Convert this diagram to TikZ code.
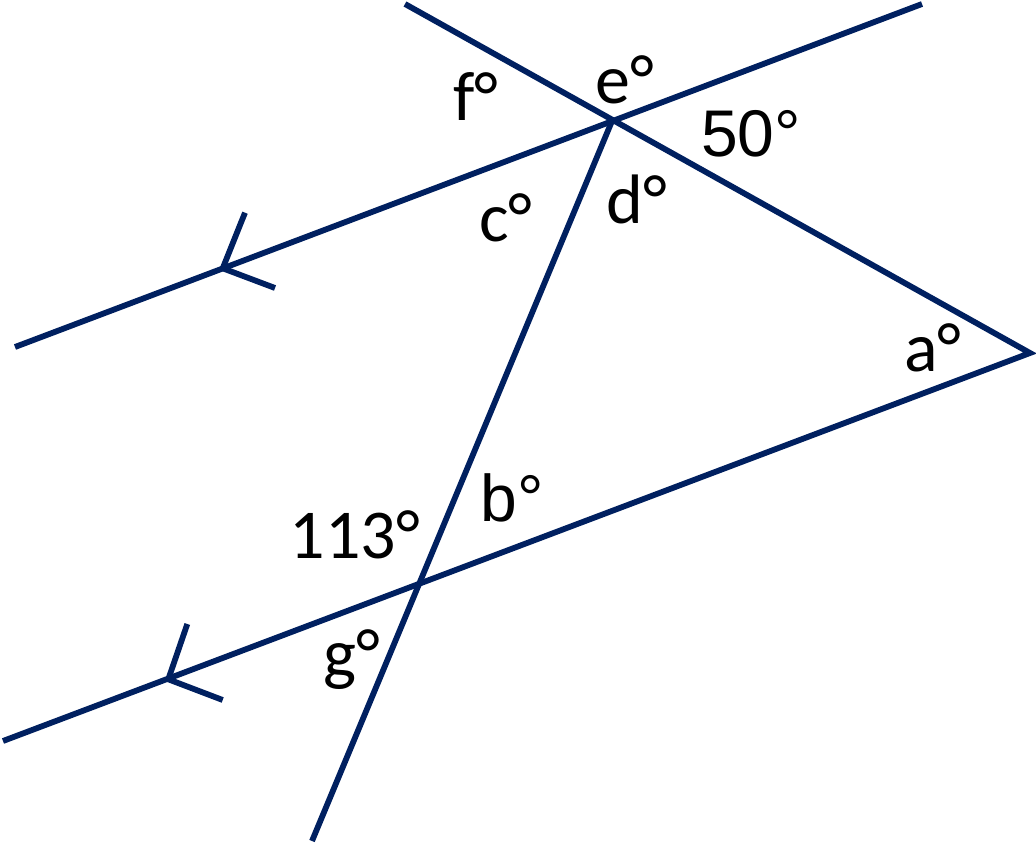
\documentclass[tikz,border=0pt]{standalone}
\usepackage{fontspec}
\setmainfont{Carlito}
\newfontfamily\arialfont{Liberation Sans}
\definecolor{navy}{RGB}{0,32,96}

\begin{document}
\begin{tikzpicture}[x=1pt,y=-1pt,font=\fontsize{70}{70}\selectfont,
  geoline/.style={navy,line width=5.8pt,miter limit=20},
  lbl/.style={inner sep=0pt,black},
  sanslbl/.style={lbl,font=\fontsize{66}{66}\selectfont\arialfont}]
\useasboundingbox (0,0) rectangle (1036,845);
% points
\coordinate (TL) at (15,347);
\coordinate (TR) at (922,4);
\coordinate (E) at (612.7,119.3);
\coordinate (NW) at (405,4);
\coordinate (A) at (1030,353);
\coordinate (BL) at (3,741);
\coordinate (S) at (312,841);
% lines
\draw [geoline] (TL) -- (TR);
\draw [geoline] (NW) -- (A) -- (BL);
\draw [geoline] (E) -- (S);
% parallel marks
\coordinate (m1) at (222.7,268.3);
\coordinate (m2) at (168.3,679.3);
\draw [geoline] (245,212.7) -- (m1) -- (275,288);
\draw [geoline] (187.3,624) -- (m2) -- (222.7,700);
% angle labels
\node [lbl] (f) at (476,97) {f°};
\node [lbl] (e) at (625,80) {e°};
\node [sanslbl] (fifty) at (751,134) {50°};
\node [lbl] (c) at (506,218) {c°};
\node [lbl] (d) at (637,199) {d°};
\node [lbl] (a) at (933,348) {a°};
\node [sanslbl] (b) at (512,498) {b°};
\node [lbl] (onethree) at (355,535) {113°};
\node [lbl] (g) at (352,660) {g°};
\end{tikzpicture}
\end{document}
